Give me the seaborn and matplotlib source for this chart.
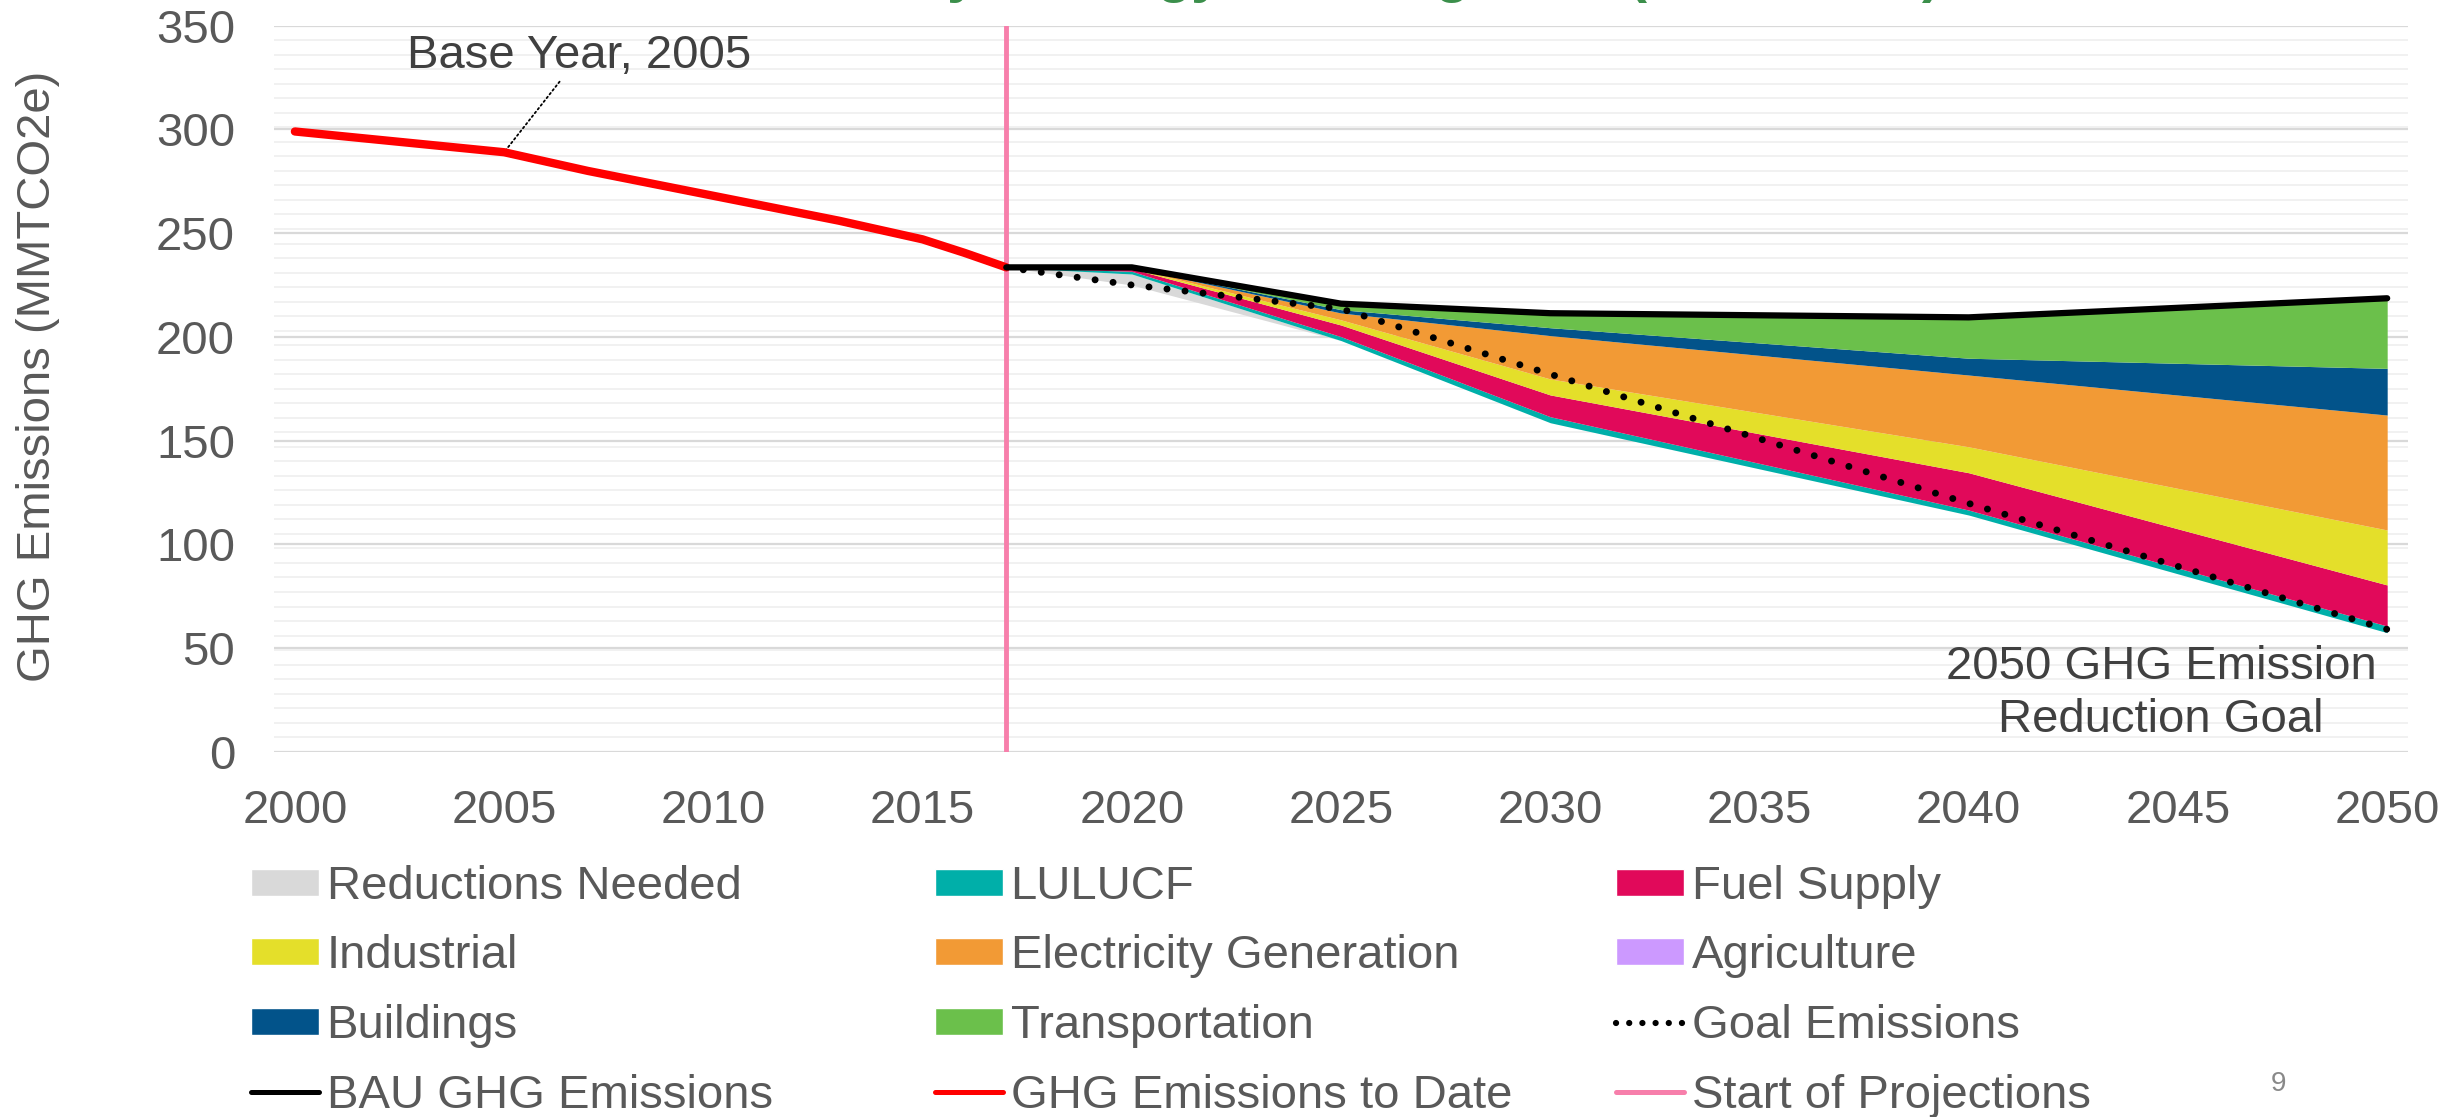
import seaborn as sns
import matplotlib.pyplot as plt
import matplotlib.ticker as mticker
from matplotlib.patches import Patch
from matplotlib.lines import Line2D

# Historical emissions (red line)
hist_years = list(range(2000, 2018))
hist_emissions = [299, 297, 295, 293, 291, 289, 284.5, 280, 276, 272, 268,
                  264, 260, 256, 251.5, 247, 240.5, 233.5]

# Projection years
proj_years = [2017, 2020, 2025, 2030, 2040, 2050]
bau = [233.5, 233.5, 216.0, 211.4, 209.4, 218.6]
goal = [233.5, 225.0, 213.5, 182.0, 119.7, 59.0]

# Reductions by strategy (stacked from the bottom up)
reductions_needed = [0, 5.3, 0, 0, 0, 0]
lulucf = [0, 1.3, 1.9, 2.9, 2.4, 3.2]
fuel_supply = [0, 1.2, 5.6, 10.5, 18.0, 19.8]
industrial = [0, 0.3, 2.5, 7.7, 12.5, 26.5]
electricity = [0, 0.2, 3.3, 20.9, 34.6, 55.4]
agriculture = [0, 0, 0, 0, 0, 0]
buildings = [0, 0.1, 1.6, 3.8, 8.1, 22.5]
transportation = [0, 0.1, 2.9, 7.0, 19.7, 33.8]

sectors = [reductions_needed, lulucf, fuel_supply, industrial, electricity,
           agriculture, buildings, transportation]
sector_colors = ['#d9d9d9', '#00afa9', '#e1095a', '#e4df2a', '#f29a35',
                 '#cc99ff', '#02538a', '#6bc04b']

# invisible base = what is left after all reductions
base = [b - sum(s[i] for s in sectors) for i, b in enumerate(bau)]

goal_years = hist_years + proj_years[1:]
goal_all = hist_emissions + goal[1:]

sns.set_style('white')
plt.rcParams['font.family'] = ['Liberation Sans', 'DejaVu Sans']
text_gray = '#595959'

fig = plt.figure(figsize=(24.55, 11.17), dpi=100)
ax = fig.add_axes([0.1116, 0.327, 0.8693, 0.650])

ax.stackplot(proj_years, base, *sectors,
             colors=['none'] + sector_colors, linewidth=0, zorder=2)

ax.axvline(2017, color='#f77fab', lw=3.5, zorder=3)

# goal line drawn straight with matplotlib so the dot pattern is kept
ax.plot(goal_years, goal_all, color='black', lw=5,
        linestyle=(0, (0.01, 2.6)), dash_capstyle='round', zorder=4)
sns.lineplot(x=hist_years, y=hist_emissions, color='red', lw=6, ax=ax, zorder=5)
sns.lineplot(x=proj_years, y=bau, color='black', lw=4.5, ax=ax, zorder=5)

ax.set_xlim(1999.5, 2050.5)
ax.set_ylim(0, 350)
ax.xaxis.set_major_locator(mticker.MultipleLocator(5))
ax.yaxis.set_major_locator(mticker.MultipleLocator(50))
ax.yaxis.set_minor_locator(mticker.MultipleLocator(7))
ax.grid(axis='y', which='major', color='#d9d9d9', lw=1.6)
ax.grid(axis='y', which='minor', color='#efefef', lw=1.2)
ax.grid(axis='x', visible=False)
ax.set_axisbelow(True)
for sp in ax.spines.values():
    sp.set_visible(False)
ax.tick_params(axis='both', which='both', length=0, labelsize=34,
               labelcolor=text_gray)
ax.tick_params(axis='x', pad=27)
ax.tick_params(axis='y', pad=28)
ax.set_xlabel('')
ax.set_ylabel('')

fig.text(38 / 2455, 0.663, 'GHG Emissions (MMTCO2e)', rotation=90,
         ha='center', va='center', fontsize=34, color=text_gray)

ax.annotate('Base Year, 2005', xy=(2005, 289), xytext=(2006.8, 335.2),
            ha='center', va='center', fontsize=34, color='#404040',
            arrowprops=dict(arrowstyle='-', linestyle=':', color='black',
                            lw=1.3, shrinkA=0, shrinkB=0))
ax.text(2044.6, 28, '2050 GHG Emission\nReduction Goal', ha='center',
        va='center', fontsize=34, color='#404040', linespacing=1.25)

# title, cut off at the top of the slide as in the original
fig.text(1940 / 2455, 1 + 9 / 1117,
         'Emissions Reductions by Strategy, Meeting Goal (MMTCO$_2$e)',
         ha='right', va='baseline', fontsize=41, fontweight='bold',
         color='#3b8f4b')

fig.text(2278 / 2455, 1 - 1084 / 1117, '9', ha='center', va='center',
         fontsize=20, color='#898989')

# legend: three columns, row-major order like the original
col1 = [Patch(facecolor=sector_colors[0]), Patch(facecolor=sector_colors[3]),
        Patch(facecolor=sector_colors[6]), Line2D([], [], color='black', lw=3.6)]
lab1 = ['Reductions Needed', 'Industrial', 'Buildings', 'BAU GHG Emissions']
col2 = [Patch(facecolor=sector_colors[1]), Patch(facecolor=sector_colors[4]),
        Patch(facecolor=sector_colors[7]), Line2D([], [], color='red', lw=3.6)]
lab2 = ['LULUCF', 'Electricity Generation', 'Transportation',
        'GHG Emissions to Date']
col3 = [Patch(facecolor=sector_colors[2]), Patch(facecolor=sector_colors[5]),
        Line2D([], [], color='black', lw=4.5, linestyle=(0, (0.01, 2.1)),
               dash_capstyle='round'),
        Line2D([], [], color='#f77fab', lw=3.6)]
lab3 = ['Fuel Supply', 'Agriculture', 'Goal Emissions', 'Start of Projections']

for handles, labels, x0 in [(col1, lab1, 251), (col2, lab2, 935),
                            (col3, lab3, 1616)]:
    leg = fig.legend(handles, labels, loc='upper left',
                     bbox_to_anchor=(x0 / 2455, 1 - 865 / 1117),
                     frameon=False, fontsize=34, borderpad=0,
                     borderaxespad=0, handlelength=1.45, handleheight=0.5,
                     handletextpad=0.15, labelspacing=0.54)
    for t in leg.get_texts():
        t.set_color(text_gray)

fig.savefig('out.png', dpi=100)
